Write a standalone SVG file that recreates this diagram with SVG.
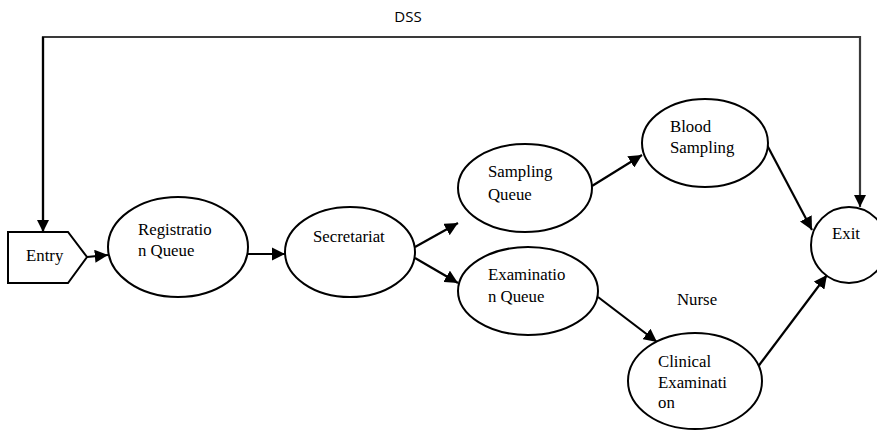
<svg xmlns="http://www.w3.org/2000/svg" width="877" height="432" viewBox="0 0 877 432">
<defs>
<marker id="ah" viewBox="0 0 10 10" refX="10" refY="5" markerWidth="6" markerHeight="6" markerUnits="strokeWidth" orient="auto">
<path d="M0,0 L10,5 L0,10 z" fill="#000"/>
</marker>
<marker id="ah2" viewBox="0 0 10 10" refX="10" refY="5" markerWidth="5.5" markerHeight="5.5" markerUnits="strokeWidth" orient="auto">
<path d="M0,0 L10,5 L0,10 z" fill="#000"/>
</marker>
</defs>
<style>
.n{fill:#fff;stroke:#000;stroke-width:2}
.t{font-family:"Liberation Serif","Times New Roman",serif;font-size:16.8px;fill:#000}
.c{fill:none;stroke:#000;stroke-width:2.2;marker-end:url(#ah)}
.d{fill:none;stroke:#3a3a3a;stroke-width:2.2}
</style>
<rect width="877" height="432" fill="#fff"/>
<text x="408" y="22" text-anchor="middle" font-family="'Open Sans','Liberation Sans',sans-serif" font-size="15" fill="#000">DSS</text>
<g id="connectors">
<path class="d" d="M43,232 V37 H860 V207" marker-end="url(#ah2)"/>
<path class="d" d="M43,37 V232" style="stroke:#000" marker-end="url(#ah2)"/>
<path class="c" d="M87,257 L108,255"/>
<path class="c" d="M247,254 L285,254"/>
<path class="c" d="M415,247 L458,223"/>
<path class="c" d="M415,258 L458,283"/>
<path class="c" d="M592,186 L642,155"/>
<path class="c" d="M767,145 L812,230"/>
<path class="c" d="M598,297 L657,342"/>
<path class="c" d="M757,368 L827,275"/>
</g>
<g id="entry">
<path class="n" d="M8,232 H68 L87,257 L68,283 H8 Z"/>
<text class="t" x="26" y="261">Entry</text>
</g>
<g id="registration">
<ellipse class="n" cx="178" cy="247" rx="70" ry="50"/>
<text class="t" x="138" y="235">Registratio</text>
<text class="t" x="138" y="256">n Queue</text>
</g>
<g id="secretariat">
<ellipse class="n" cx="350" cy="252" rx="65" ry="45"/>
<text class="t" x="313" y="242">Secretariat</text>
</g>
<g id="sampling-queue">
<ellipse class="n" cx="525" cy="188" rx="67" ry="44"/>
<text class="t" x="488" y="177">Sampling</text>
<text class="t" x="488" y="200">Queue</text>
</g>
<g id="examination-queue">
<ellipse class="n" cx="528" cy="291" rx="70" ry="44"/>
<text class="t" x="488" y="280">Examinatio</text>
<text class="t" x="488" y="302">n Queue</text>
</g>
<g id="blood-sampling">
<ellipse class="n" cx="705" cy="143" rx="63" ry="44"/>
<text class="t" x="670" y="132">Blood</text>
<text class="t" x="670" y="153">Sampling</text>
</g>
<g id="clinical-examination">
<ellipse class="n" cx="695" cy="381" rx="67" ry="48"/>
<text class="t" x="658" y="367">Clinical</text>
<text class="t" x="658" y="388">Examinati</text>
<text class="t" x="658" y="408">on</text>
</g>
<g id="exit">
<circle class="n" cx="849" cy="245" r="38"/>
<text class="t" x="832" y="239">Exit</text>
</g>
<text class="t" x="677" y="305">Nurse</text>
</svg>
